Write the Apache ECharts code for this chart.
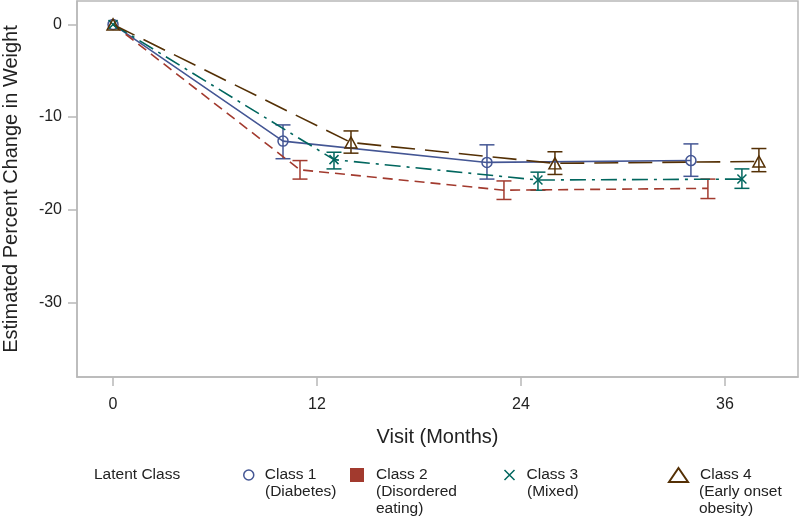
<!DOCTYPE html>
<html>
<head>
<meta charset="utf-8">
<script src="https://cdn.jsdelivr.net/npm/echarts@6/dist/echarts.min.js"></script>
<style>html,body{margin:0;padding:0;background:#fff}#c{width:800px;height:523px}</style>
</head>
<body>
<div id="c"></div>
<script>
// ---- data ----
const xTicks = [0, 12, 24, 36];
const yTicks = [0, -10, -20, -30];

const classNames = ['Class 1', 'Class 2', 'Class 3', 'Class 4'];
const classLabels = ['Class 1\n(Diabetes)', 'Class 2\n(Disordered\neating)', 'Class 3\n(Mixed)', 'Class 4\n(Early onset\nobesity)'];
const legendTitle = 'Latent Class';

const class1Months = [0, 10, 22, 34];
const class1Mean   = [0, -12.6, -14.9, -14.7];
const class1Lower  = [null, -14.5, -16.7, -16.4];
const class1Upper  = [null, -10.85, -13.0, -12.9];

const class2Months = [0, 11, 23, 35];
const class2Mean   = [0, -15.7, -17.9, -17.7];
const class2Lower  = [null, -16.7, -18.9, -18.8];
const class2Upper  = [null, -14.7, -16.9, -16.7];

const class3Months = [0, 13, 25, 37];
const class3Mean   = [0, -14.6, -16.8, -16.7];
const class3Lower  = [null, -15.6, -17.9, -17.7];
const class3Upper  = [null, -13.8, -15.95, -15.6];

const class4Months = [0, 14, 26, 38];
const class4Mean   = [0, -12.75, -15.0, -14.8];
const class4Lower  = [null, -13.9, -16.2, -15.9];
const class4Upper  = [null, -11.5, -13.75, -13.4];

// ---- styles ----
const colors = ['#445694', '#A23A2E', '#01665E', '#543005'];
const dashes = ['solid', [10, 6], [16, 6, 3, 6], [24, 10]];
const FONT = '"Liberation Sans", Arial, sans-serif';
const TXT = '#222';
const FRAME = '#b8b8b8';

const groups = [
  [class1Months, class1Mean, class1Lower, class1Upper],
  [class2Months, class2Mean, class2Lower, class2Upper],
  [class3Months, class3Mean, class3Lower, class3Upper],
  [class4Months, class4Mean, class4Lower, class4Upper]
];

const markerSymbols = [
  {symbol: 'circle', size: 10},
  {symbol: 'none', size: 0},
  {symbol: 'path://M0,0L10,10M10,0L0,10', size: 9},
  {symbol: 'triangle', size: [12, 11]}
];

const series = [];
groups.forEach((g, i) => {
  const [m, mean, lo, hi] = g;
  series.push({
    name: classNames[i],
    type: 'line',
    data: m.map((x, k) => [x, mean[k]]),
    symbol: markerSymbols[i].symbol,
    symbolSize: markerSymbols[i].size,
    showSymbol: markerSymbols[i].symbol !== 'none',
    itemStyle: {color: 'rgba(0,0,0,0)', borderColor: colors[i], borderWidth: 1.5},
    lineStyle: {color: colors[i], width: 1.6, type: dashes[i]},
    emphasis: {disabled: true},
    z: 3
  });
  const bars = [];
  m.forEach((x, k) => { if (lo[k] !== null) bars.push([x, lo[k], hi[k]]); });
  series.push({
    name: classNames[i] + ' CI',
    type: 'custom',
    data: bars,
    encode: {x: 0, y: [1, 2]},
    z: 2,
    renderItem: function (params, api) {
      const x = api.value(0);
      const top = api.coord([x, api.value(2)]);
      const bot = api.coord([x, api.value(1)]);
      const w = 7.5;
      const st = {stroke: colors[i], lineWidth: 1.5};
      return {
        type: 'group',
        children: [
          {type: 'line', shape: {x1: top[0], y1: top[1], x2: bot[0], y2: bot[1]}, style: st},
          {type: 'line', shape: {x1: top[0] - w, y1: top[1], x2: top[0] + w, y2: top[1]}, style: st},
          {type: 'line', shape: {x1: bot[0] - w, y1: bot[1], x2: bot[0] + w, y2: bot[1]}, style: st}
        ]
      };
    }
  });
});

// legends (icon + first line), extra lines as graphic text
const LINE_H = 17;
const LEG_Y = 475;
const LEG_FS = 15.5;
const legendSpec = [
  {left: 243, icon: 'circle', w: 10, h: 10, style: {color: '#fff', borderColor: colors[0], borderWidth: 1.5}, textX: 265, adj: -1},
  {left: 350, icon: 'rect', w: 14, h: 14, style: {color: colors[1], borderWidth: 0}, textX: 376, adj: 0},
  {left: 502, icon: 'path://M0,0L10,10M10,0L0,10', w: 10, h: 10, style: {color: 'none', borderColor: colors[2], borderWidth: 1.5}, textX: 527, adj: -3},
  {left: 668, icon: 'triangle', w: 19, h: 14, style: {color: '#fff', borderColor: colors[3], borderWidth: 2}, textX: 699, adj: 0}
];
const legends = legendSpec.map((s, i) => ({
  left: s.left,
  top: LEG_Y - Math.max(s.h, LINE_H) / 2,
  orient: 'horizontal',
  padding: 0,
  itemGap: 0,
  selectedMode: false,
  itemWidth: s.w,
  itemHeight: s.h,
  data: [{name: classNames[i], icon: s.icon, itemStyle: s.style}],
  formatter: () => classLabels[i].split('\n')[0],
  textStyle: {fontSize: LEG_FS, lineHeight: LINE_H, color: TXT, fontFamily: FONT,
    padding: [0, 0, 0, s.textX - s.left - s.w - 5 + s.adj]}
}));

const extraText = [];
legendSpec.forEach((s, i) => {
  const lines = classLabels[i].split('\n');
  lines.slice(1).forEach((ln, k) => {
    extraText.push({
      type: 'text', left: s.textX, top: LEG_Y - LINE_H / 2 + (k + 1) * LINE_H,
      style: {text: ln, fontSize: LEG_FS, lineHeight: LINE_H, fill: TXT, fontFamily: FONT}
    });
  });
});

const option = {
  animation: false,
  backgroundColor: '#fff',
  title: {
    text: legendTitle, left: 94, top: LEG_Y - LINE_H / 2, padding: 0,
    textStyle: {fontSize: LEG_FS, lineHeight: LINE_H, fontWeight: 'normal', color: TXT, fontFamily: FONT}
  },
  legend: legends,
  graphic: extraText,
  grid: {left: 77, right: 2, top: 1, bottom: 146, show: true, borderColor: FRAME, borderWidth: 1.5,
    containLabel: false, outerBoundsMode: 'none'},
  xAxis: {
    type: 'value', min: -2.12, max: 40.3,
    name: 'Visit (Months)', nameLocation: 'middle', nameGap: 50,
    nameTextStyle: {fontSize: 20, color: TXT, fontFamily: FONT},
    axisLine: {show: true, onZero: false, lineStyle: {color: FRAME, width: 1.5}},
    axisTick: {show: true, length: 9, lineStyle: {color: FRAME, width: 1.5}, customValues: xTicks},
    axisLabel: {fontSize: 16, color: TXT, fontFamily: FONT, margin: 20, customValues: xTicks},
    splitLine: {show: false}
  },
  yAxis: {
    type: 'value', min: -38.07, max: 2.53,
    name: 'Estimated Percent Change in Weight', nameLocation: 'middle', nameGap: 56,
    nameTextStyle: {fontSize: 20, color: TXT, fontFamily: FONT},
    axisLine: {show: true, onZero: false, lineStyle: {color: FRAME, width: 1.5}},
    axisTick: {show: true, length: 9, lineStyle: {color: FRAME, width: 1.5}, customValues: yTicks},
    axisLabel: {fontSize: 16, color: TXT, fontFamily: FONT, margin: 15, customValues: yTicks},
    splitLine: {show: false}
  },
  series: series
};

const chart = echarts.init(document.getElementById('c'), null, {renderer: 'canvas'});
chart.setOption(option);
</script>
</body>
</html>
